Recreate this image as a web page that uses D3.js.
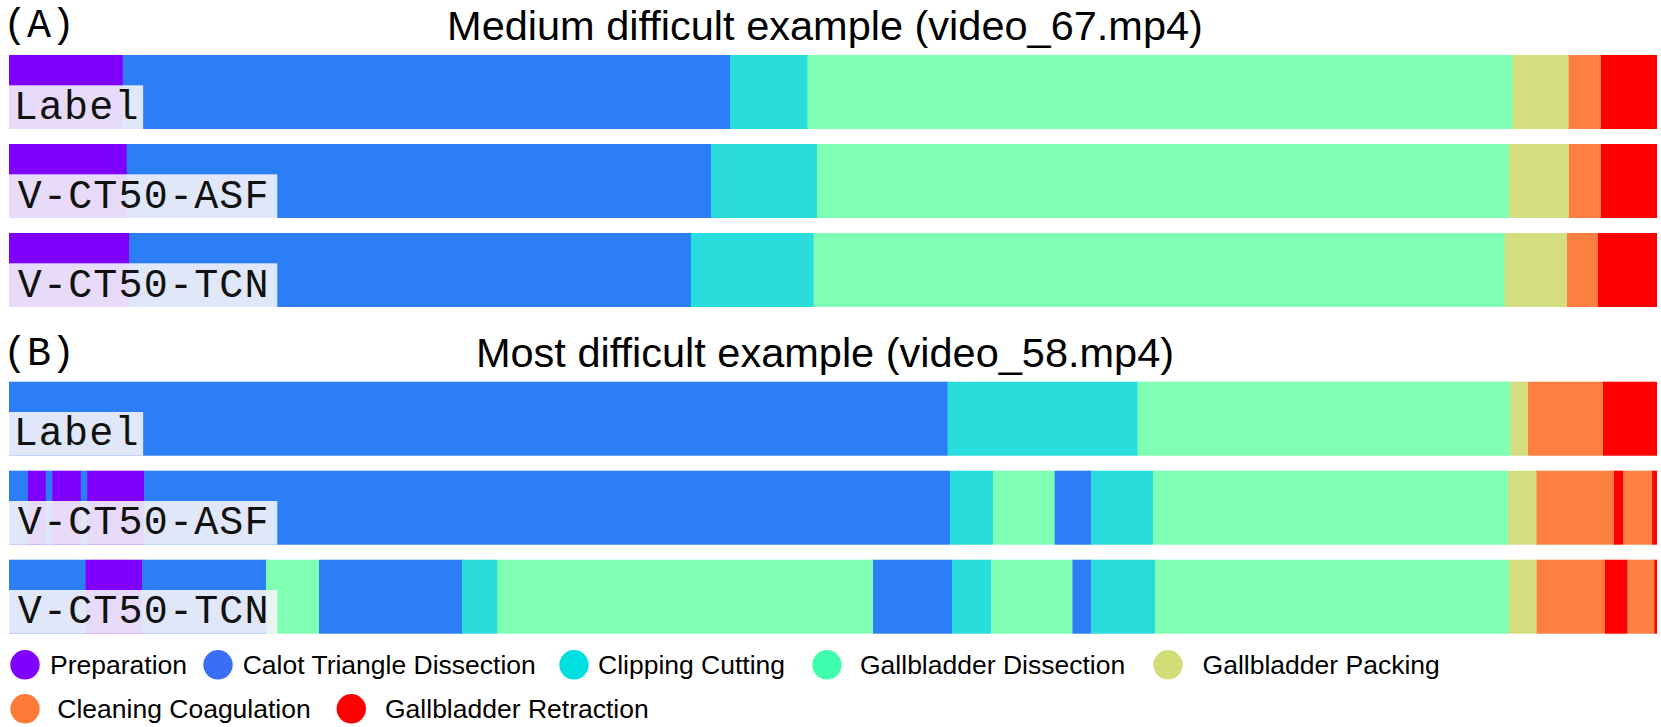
<!DOCTYPE html>
<html>
<head>
<meta charset="utf-8">
<script src="https://cdn.jsdelivr.net/npm/d3@7"></script>
<style>
  html, body { margin: 0; padding: 0; background: #ffffff; }
  svg { display: block; }
</style>
</head>
<body>
<svg id="chart" width="1661" height="727"></svg>
<script>
// ---------------- DATA ----------------
const phases = ["Preparation", "Calot Triangle Dissection", "Clipping Cutting",
  "Gallbladder Dissection", "Gallbladder Packing", "Cleaning Coagulation", "Gallbladder Retraction"];
const barColors = ["#8000FF", "#2C7EF6", "#2ADDDD", "#80FFB4", "#D4DD80", "#FF7F41", "#FF0000"];
const legendColors = ["#7F00FF", "#3B6EF6", "#00DFE0", "#40FFAC", "#D4DE78", "#FF7A38", "#FF0000"];

const rowNames = ["Label", "V-CT50-ASF", "V-CT50-TCN"];
const panelTags = ["(A)", "(B)"];
const panelTitles = ["Medium difficult example (video_67.mp4)", "Most difficult example (video_58.mp4)"];

// phase index of each segment, and segment end (% of video duration)
const v67LabelPhases = [0, 1, 2, 3, 4, 5, 6];
const v67LabelEnds   = [6.90, 43.75, 48.45, 91.23, 94.64, 96.60, 100];
const v67AsfPhases   = [0, 1, 2, 3, 4, 5, 6];
const v67AsfEnds     = [7.14, 42.60, 49.03, 91.02, 94.66, 96.60, 100];
const v67TcnPhases   = [0, 1, 2, 3, 4, 5, 6];
const v67TcnEnds     = [7.30, 41.38, 48.82, 90.76, 94.54, 96.42, 100];

const v58LabelPhases = [1, 2, 3, 4, 5, 6];
const v58LabelEnds   = [56.95, 68.48, 91.10, 92.17, 96.72, 100];
const v58AsfPhases   = [1, 0, 1, 0, 1, 0, 1, 2, 3, 1, 2, 3, 4, 5, 6, 5, 6];
const v58AsfEnds     = [1.15, 2.23, 2.62, 4.35, 4.74, 8.19, 57.10, 59.71, 63.45, 65.66, 69.42, 90.96, 92.69, 97.39, 97.94, 99.70, 100];
const v58TcnPhases   = [1, 0, 1, 3, 1, 2, 3, 1, 2, 3, 1, 2, 3, 4, 5, 6, 5, 6];
const v58TcnEnds     = [4.65, 8.07, 15.60, 18.81, 27.49, 29.64, 52.43, 57.22, 59.59, 64.53, 65.66, 69.54, 91.00, 92.70, 96.84, 98.20, 99.84, 100];

const panels = [
  { rows: [[v67LabelPhases, v67LabelEnds], [v67AsfPhases, v67AsfEnds], [v67TcnPhases, v67TcnEnds]] },
  { rows: [[v58LabelPhases, v58LabelEnds], [v58AsfPhases, v58AsfEnds], [v58TcnPhases, v58TcnEnds]] }
];

// ---------------- LAYOUT ----------------
const svg = d3.select("#chart");
const x = d3.scaleLinear().domain([0, 100]).range([9, 1657]);
const panelTop = [55, 381.7];
const panelBottom = [307, 633.7];
const titleBaseline = [40, 366.7];
const tagBaseline = [37.3, 365];
const sansFont = "'Liberation Sans', Arial, Helvetica, sans-serif";
const monoFont = "'Liberation Mono', 'Courier New', monospace";

panels.forEach((panel, pi) => {
  const y = d3.scaleBand().domain(rowNames)
    .range([panelTop[pi], panelBottom[pi]])
    .paddingInner(15 / 89).paddingOuter(0);
  const g = svg.append("g");

  // tag & title
  g.append("text").attr("x", 3).attr("y", tagBaseline[pi])
    .attr("font-family", monoFont).attr("font-size", 40)
    .attr("fill", "#000").text(panelTags[pi]);
  g.append("text").attr("x", 825).attr("y", titleBaseline[pi])
    .attr("text-anchor", "middle")
    .attr("font-family", sansFont).attr("font-size", 41.5)
    .attr("fill", "#000").text(panelTitles[pi]);

  panel.rows.forEach((row, ri) => {
    const [ph, ends] = row;
    const segs = ph.map((p, i) => ({ p, s: i === 0 ? 0 : ends[i - 1], e: ends[i] }));
    const rg = g.append("g");
    rg.selectAll("rect.seg").data(segs).join("rect")
      .attr("class", "seg")
      .attr("x", d => x(d.s))
      .attr("y", y(rowNames[ri]))
      .attr("width", (d, i) => x(d.e) - x(d.s) + (i < segs.length - 1 ? 0.5 : 0))
      .attr("height", y.bandwidth())
      .attr("fill", d => barColors[d.p]);

    // label box
    const bottom = y(rowNames[ri]) + y.bandwidth();
    const name = rowNames[ri];
    const boxW = name.length * 26.83;
    const boxH = 43.7;
    rg.append("rect")
      .attr("x", x(0)).attr("y", bottom - boxH)
      .attr("width", boxW).attr("height", boxH)
      .attr("fill", "#f3f3f8").attr("fill-opacity", 0.9);
    rg.append("text")
      .attr("x", x(0) + boxW / 2 + 0.6).attr("y", bottom - 10.4)
      .attr("text-anchor", "middle")
      .attr("font-family", monoFont).attr("font-size", 40)
      .attr("letter-spacing", "1.2px")
      .attr("fill", "#111").text(name);
  });
});

// ---------------- LEGEND ----------------
const legendRows = [0, 0, 0, 0, 0, 1, 1];
const legendCx = [25, 218, 574, 827, 1168, 25, 351.3];
const legendTx = [50, 242.7, 598, 860, 1202.6, 57.3, 385];
const legendRowY = [664.8, 708.8];
const lg = svg.append("g");
const items = phases.map((name, i) => ({ name, i }));
lg.selectAll("circle").data(items).join("circle")
  .attr("cx", d => legendCx[d.i])
  .attr("cy", d => legendRowY[legendRows[d.i]])
  .attr("r", 14.7)
  .attr("fill", d => legendColors[d.i]);
lg.selectAll("text").data(items).join("text")
  .attr("x", d => legendTx[d.i])
  .attr("y", d => legendRowY[legendRows[d.i]] + 9.6)
  .attr("font-family", sansFont).attr("font-size", 26.5)
  .attr("fill", "#000")
  .text(d => d.name);
</script>
</body>
</html>
